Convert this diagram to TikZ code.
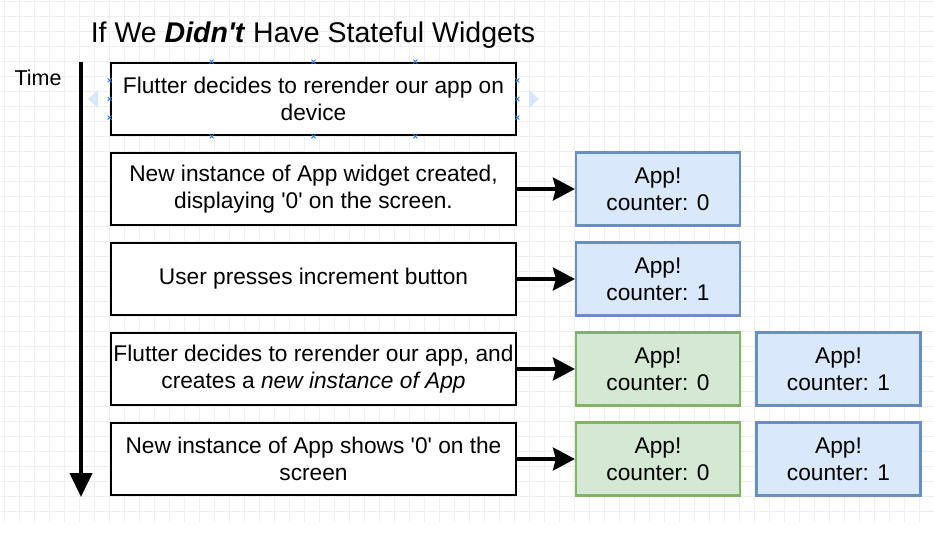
\documentclass[tikz,border=0pt]{standalone}
\usepackage{fontspec}
\setmainfont{Liberation Sans}[Ligatures=TeXOff]
\usetikzlibrary{arrows.meta,calc}
\definecolor{bluefill}{HTML}{DAE8FC}
\definecolor{bluedraw}{HTML}{6C8EBF}
\definecolor{greenfill}{HTML}{D5E8D4}
\definecolor{greendraw}{HTML}{82B366}
\definecolor{gridc}{HTML}{EFEFEF}
\definecolor{handlec}{HTML}{2E7BD6}
\definecolor{hintc}{HTML}{D6E6FB}
\begin{document}
\begin{tikzpicture}[x=1pt,y=-1pt,
  stepbox/.style={draw=black, line width=2.6pt, fill=white, minimum width=405pt, minimum height=72pt, align=center, font=\fontsize{22.7}{27}\selectfont, inner sep=0pt},
  appblue/.style={draw=bluedraw, fill=bluefill, line width=2.2pt, minimum width=164pt, minimum height=73pt, align=center, font=\fontsize{22.7}{27}\selectfont, inner sep=0pt},
  appgreen/.style={appblue, draw=greendraw, fill=greenfill},
  conn/.style={line width=3.4pt, -{Stealth[length=22pt,width=23pt,inset=3pt]}},
  gridline/.style={draw=gridc, line width=0.9pt},
  handle/.style={draw=handlec, line width=0.9pt},
  hint/.style={fill=hintc},
]
\fill[white] (0,0) rectangle (934,547);
\useasboundingbox (0,0) rectangle (934,547);
% grid
\foreach \k in {0,...,61} { \draw[gridline] (4+15*\k,0) -- (4+15*\k,522); }
\foreach \k in {0,...,34} { \draw[gridline] (0,1.7+15*\k) -- (934,1.7+15*\k); }
% title
\node[font=\fontsize{28.5}{32}\selectfont, anchor=base] (title) at (313,42) {If We \textbf{\textit{Didn't}} Have Stateful Widgets};
% time axis
\node[font=\fontsize{21.5}{25}\selectfont, anchor=base] (time) at (38,85) {Time};
\coordinate (ttop) at (81,62);
\coordinate (tbot) at (81,497);
\draw[line width=4pt, -{Triangle[length=24pt,width=22pt]}] (ttop) -- (tbot);
% steps
\node[stepbox] (s1) at (313.5,99) {Flutter decides to rerender our app on\\device};
\node[stepbox] (s2) at (313.5,189) {New instance of App widget created,\\displaying '0' on the screen.};
\node[stepbox] (s3) at (313.5,279) {User presses increment button};
\node[stepbox] (s4) at (313.5,369) {Flutter decides to rerender our app, and\\creates a \textit{new instance of App}};
\node[stepbox] (s5) at (313.5,459) {New instance of App shows '0' on the\\screen};
% app widgets
\node[appblue] (a2) at (658,189) {App!\\counter: 0};
\node[appblue] (a3) at (658,279) {App!\\counter: 1};
\node[appgreen] (a4) at (658,369) {App!\\counter: 0};
\node[appgreen] (a5) at (658,459) {App!\\counter: 0};
\node[appblue] (b4) at (838.5,369) {App!\\counter: 1};
\node[appblue] (b5) at (838.5,459) {App!\\counter: 1};
% connectors
\draw[conn] (s2.east) -- (a2.west);
\draw[conn] (s3.east) -- (a3.west);
\draw[conn] (s4.east) -- (a4.west);
\draw[conn] (s5.east) -- (a5.west);
% selection hints on the first step
\fill[hint] (98,90) -- (98,108) -- (88,99) -- cycle;
\fill[hint] (529,90) -- (529,108) -- (539,99) -- cycle;
\foreach \f in {0.25,0.5,0.75} {
  \draw[handle] ($(s1.north west)!\f!(s1.north east)+(-2,-2)$) -- ++(4,4) ++(-4,0) -- ++(4,-4);
  \draw[handle] ($(s1.south west)!\f!(s1.south east)+(-2,-2)$) -- ++(4,4) ++(-4,0) -- ++(4,-4);
  \draw[handle] ($(s1.north west)!\f!(s1.south west)+(-2,-2)$) -- ++(4,4) ++(-4,0) -- ++(4,-4);
  \draw[handle] ($(s1.north east)!\f!(s1.south east)+(-2,-2)$) -- ++(4,4) ++(-4,0) -- ++(4,-4);
}
\end{tikzpicture}
\end{document}
